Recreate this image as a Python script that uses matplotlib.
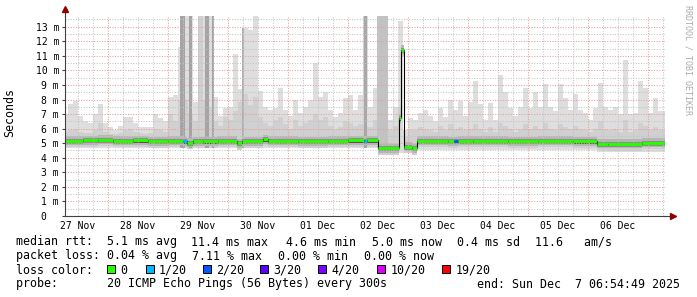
import matplotlib
matplotlib.use("Agg")
import matplotlib.pyplot as plt
from matplotlib.patches import Rectangle
import numpy as np

# time axis in hours counted from 27 Nov 00:00, graph ends Sun Dec 7 06:54:49
t_start = 6.914
t_end = 246.914

day_labels = ['27 Nov', '28 Nov', '29 Nov', '30 Nov', '01 Dec',
              '02 Dec', '03 Dec', '04 Dec', '05 Dec', '06 Dec']

# smoke, consolidated into 2 h bins starting 27 Nov 06:00 (ms)
smoke_bin0 = 6.0
smoke_step = 2.0
smoke_max = [7.0, 7.7, 7.9, 6.9, 6.5, 6.4, 7.0, 7.7, 6.4, 6.1,
             5.9, 6.2, 6.8, 6.8, 6.4, 6.1, 6.1, 6.1, 7.0, 6.7,
             6.5, 8.2, 8.3, 11.6, 15, 15, 7.8, 15, 15, 15,
             8.2, 6.9, 7.4, 7.5, 11.1, 8.7, 12.9, 12.8, 15, 8.6,
             7.5, 7.3, 7.4, 8.8, 7.3, 6.9, 8.0, 7.1, 7.5, 8.0,
             10.5, 8.2, 8.5, 7.3, 6.8, 7.1, 8.1, 8.3, 7.3, 8.3,
             15, 7.5, 8.8, 15, 15, 6.6, 7.5, 13.4, 5.9, 6.7,
             6.6, 7.05, 7.3, 6.9, 6.5, 7.4, 6.8, 8.0, 7.3, 7.9,
             6.9, 7.8, 9.3, 7.7, 6.6, 7.75, 6.6, 9.7, 8.5, 7.4,
             6.9, 7.5, 8.8, 7.4, 8.5, 7.5, 9.1, 7.5, 7.2, 9.1,
             8.1, 7.3, 8.4, 7.3, 7.05, 6.6, 7.4, 9.15, 7.5, 7.3,
             7.5, 7.0, 10.7, 7.0, 7.1, 9.3, 8.8, 7.1, 8.1, 7.2, 7.2]
smoke_q3 = [5.8, 5.9, 6.0, 5.8, 5.7, 5.7, 5.9, 6.4, 5.8, 5.6,
            5.6, 5.7, 5.9, 6.0, 5.8, 5.7, 5.6, 5.7, 6.0, 5.9,
            5.8, 7.0, 6.5, 8.0, 8.0, 7.0, 6.5, 15, 8.0, 7.5,
            6.5, 6.2, 6.8, 6.6, 7.2, 7.8, 8.4, 7.6, 8.2, 6.8,
            6.4, 6.2, 6.6, 6.8, 6.3, 6.0, 6.6, 6.2, 6.4, 6.6,
            7.0, 6.6, 6.8, 6.2, 6.0, 6.1, 6.5, 6.4, 6.2, 6.3,
            6.2, 6.1, 6.6, 8.0, 11.2, 5.9, 6.2, 7.5, 5.4, 5.9,
            5.9, 6.1, 6.0, 5.9, 5.8, 6.2, 5.9, 6.3, 6.0, 6.1,
            5.9, 6.0, 6.3, 6.0, 5.8, 6.1, 5.8, 6.4, 6.2, 6.0,
            5.8, 6.0, 6.3, 6.0, 6.2, 6.0, 6.4, 6.0, 5.9, 6.3,
            6.1, 6.0, 6.2, 6.0, 5.9, 5.8, 6.0, 6.5, 6.0, 5.9,
            6.0, 5.8, 6.6, 5.8, 5.9, 6.4, 6.2, 5.9, 6.1, 5.9, 5.9]

# lower edge of the smoke (ms), changes at these hours
lo_t = [6.0, 132.0, 147.6, 219.6]
lo_v = [4.65, 4.3, 4.5, 4.4]

# spread of the darker smoke around the median (ms): (below, above)
band_mid = (0.45, 0.0)
band_grey = (0.3, 0.32)
band_dark = (0.2, 0.14)
band_core = (0.15, -0.05)

# columns where most pings were slow
heavy_t0 = [52.8, 56.2, 62.8, 65.6, 77.6, 126.4, 131.6]
heavy_t1 = [54.8, 57.6, 64.4, 66.4, 78.3, 127.6, 136.0]
heavy_top = [15, 15, 15, 15, 12.9, 15, 15]

# median rtt steps (segment start hour, ms, loss index)
med_t = [6.0, 14, 20, 26, 34, 40, 48, 54, 55.6, 58, 62, 68, 75.5, 77.5,
         86, 88, 100, 112, 120, 126.4, 127.6, 132, 140.2, 141.3, 142.2,
         145.6, 147.6, 160, 162.4, 164, 170, 184, 196, 210, 219.6, 224, 237.6]
med_v = [5.17, 5.2, 5.23, 5.17, 5.19, 5.14, 5.17, 5.12, 5.04, 5.14, 5.12, 5.17, 5.0, 5.14,
         5.26, 5.17, 5.14, 5.17, 5.19, 5.17, 5.19, 4.65, 6.7, 11.4, 4.75,
         4.65, 5.17, 5.14, 5.14, 5.17, 5.17, 5.14, 5.17, 5.12, 4.97, 4.94, 5.02]
med_loss = [0, 0, 0, 0, 0, 0, 0, 1, 0, 0, 0, 0, 0, 0,
            0, 0, 0, 0, 0, 1, 0, 0, 0, 0, 0,
            0, 0, 0, 2, 0, 0, 0, 0, 0, 0, 0, 0]

loss_labels = ['0', '1/20', '2/20', '3/20', '4/20', '10/20', '19/20']
loss_colors = ['#26ff00', '#00b8ff', '#0059ff', '#5e00ff', '#7e00ff', '#dd00ff', '#ff0000']

stats_rtt = ['median rtt:  5.1 ms avg', '11.4 ms max', '4.6 ms min',
             '5.0 ms now', '0.4 ms sd', '11.6   am/s']
stats_loss = ['packet loss: 0.04 % avg', '7.11 % max', '0.00 % min', '0.00 % now']
probe_text = 'probe:       20 ICMP Echo Pings (56 Bytes) every 300s'
end_text = 'end: Sun Dec  7 06:54:49 2025'


def step_at(ts, vs, x):
    idx = np.clip(np.searchsorted(ts, x, side='right') - 1, 0, len(vs) - 1)
    return np.asarray(vs, dtype=float)[idx]


W, H = 697, 297
fig = plt.figure(figsize=(W / 100, H / 100), dpi=100)
fig.patch.set_facecolor('white')
plt.rcParams['font.family'] = ['DejaVu Sans Mono']


def fx(x):
    return x / W


def fy(y):
    return 1 - y / H


ax = fig.add_axes([fx(65.3), fy(216), 600 / W, 200 / H])
ax.set_facecolor('white')
ax.set_xlim(t_start, t_end)
ax.set_ylim(0, 13.74)

edges = smoke_bin0 + smoke_step * np.arange(len(smoke_max))
xs = np.unique(np.r_[edges, lo_t, med_t, t_end])
xs = xs[xs <= t_end + 2]
mx = step_at(edges, smoke_max, xs)
q3 = step_at(edges, smoke_q3, xs)
lo = step_at(lo_t, lo_v, xs)
md = step_at(med_t, med_v, xs)

# smoke
ax.fill_between(xs, lo, mx, step='post', color='#dedede', lw=0, zorder=1)
ax.fill_between(xs, md - band_mid[0], np.maximum(q3, md), step='post',
                color='#d0d0d0', lw=0, zorder=2)
heavy_bottom = step_at(lo_t, lo_v, np.array(heavy_t0))
heavy_shade = ['#a4a4a4'] * 4 + ['#b0b0b0', '#a8a8a8', '#c2c2c2']
ax.bar(heavy_t0, np.array(heavy_top) - heavy_bottom,
       width=np.array(heavy_t1) - np.array(heavy_t0), bottom=heavy_bottom,
       align='edge', color=heavy_shade, lw=0, zorder=3)
for band, shade in [(band_grey, '#b6b6b6'), (band_dark, '#8e8e8e'), (band_core, '#555555')]:
    ax.fill_between(xs, md - band[0], md + band[1], step='post',
                    color=shade, lw=0, zorder=4)

# grid
dots = (0, (1, 1.5))
minor_x = [h for h in np.arange(6, 247, 6) if h % 24]
major_x = np.arange(24, 247, 24)
minor_y = np.arange(0.5, 13.6, 1.0)
major_y = np.arange(1, 14, 1)
ax.vlines(minor_x, 0, 13.74, colors='#c4c4c4', linestyles=[dots], lw=0.75, zorder=5)
ax.hlines(minor_y, t_start, t_end, colors='#c4c4c4', linestyles=[dots], lw=0.75, zorder=5)
ax.vlines(major_x, 0, 13.74, colors='#ee9a9a', linestyles=[dots], lw=0.75, zorder=5)
ax.hlines(major_y, t_start, t_end, colors='#ee9a9a', linestyles=[dots], lw=0.75, zorder=5)

# median line coloured by loss
ax.step(np.r_[med_t, t_end], np.r_[med_v, med_v[-1]], where='post',
        color='black', lw=0.8, zorder=6)
seg_end = np.r_[med_t[1:], t_end]
ax.hlines(med_v, med_t, seg_end, colors=[loss_colors[i] for i in med_loss],
          lw=2.1, zorder=7, capstyle='butt')

# axes
for s in ['top', 'right']:
    ax.spines[s].set_visible(False)
for s in ['left', 'bottom']:
    ax.spines[s].set_color('#404040')
    ax.spines[s].set_linewidth(0.8)
    ax.spines[s].set_zorder(8)
ax.plot([0, 0], [1, 1.03], transform=ax.transAxes, color='#404040', lw=0.8, clip_on=False)
ax.plot([1, 1.01], [0, 0], transform=ax.transAxes, color='#404040', lw=0.8, clip_on=False)
ax.plot([0], [1.035], transform=ax.transAxes, marker='^', ms=4, color='#8b0000',
        clip_on=False, zorder=9)
ax.plot([1.012], [0], transform=ax.transAxes, marker='>', ms=4, color='#8b0000',
        clip_on=False, zorder=9)

ax.set_yticks(range(14))
ax.set_yticklabels(['0  '] + ['%d m' % v for v in range(1, 14)])
ax.set_xticks([12 + 24 * i for i in range(len(day_labels))])
ax.set_xticklabels(day_labels)
ax.tick_params(axis='y', length=2, width=0.8, color='#404040', pad=2.5, labelsize=7)
ax.tick_params(axis='x', length=0, pad=3.5, labelsize=7)

fig.text(fx(10), fy(113), 'Seconds', rotation=90, ha='center', va='center', fontsize=8.4)
fig.text(fx(688), fy(5), 'RRDTOOL / TOBI OETIKER', rotation=270, ha='center', va='top',
         fontsize=6, color='#ababab')

# legend block
rtt_x = [16, 191.5, 286.5, 371.5, 457, 535]
for s, x in zip(stats_rtt, rtt_x):
    fig.text(fx(x), fy(245.5), s, fontsize=8.4, va='baseline')
loss_x = [16, 192, 277.5, 364]
for s, x in zip(stats_loss, loss_x):
    fig.text(fx(x), fy(259.5), s, fontsize=8.4, va='baseline')
fig.text(fx(16), fy(273.5), 'loss color:', fontsize=8.4, va='baseline')
box_x = [107.3, 145.7, 203, 260, 318, 377.3, 442.3]
for lab, col, x in zip(loss_labels, loss_colors, box_x):
    fig.patches.append(Rectangle((fx(x), fy(273.3)), 8 / W, 8 / H, transform=fig.transFigure,
                                 facecolor=col, edgecolor='black', lw=0.7))
    fig.text(fx(x + 13), fy(273.5), lab, fontsize=8.4, va='baseline')
fig.text(fx(16), fy(287.5), probe_text, fontsize=8.4, va='baseline')
fig.text(fx(680), fy(287.5), end_text, fontsize=8.4, va='baseline', ha='right')

fig.savefig('out.png', dpi=100, facecolor='white')
